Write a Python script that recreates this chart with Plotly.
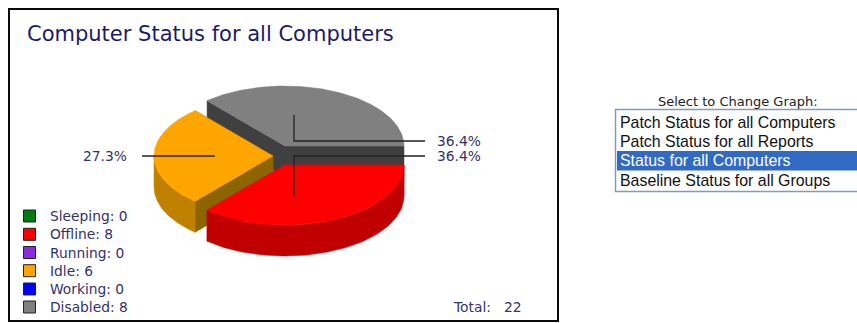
import numpy as np
import plotly.graph_objects as go

# Chart data
categories = ["Sleeping", "Offline", "Running", "Idle", "Working", "Disabled"]
counts = [0, 8, 0, 6, 0, 8]
swatch_colors = ["#007a12", "#ff0000", "#8a2be2", "#ffa500", "#0000ff", "#808080"]
graph_choices = [
    "Patch Status for all Computers",
    "Patch Status for all Reports",
    "Status for all Computers",
    "Baseline Status for all Groups",
]
selected_choice = 2
chart_title = "Computer Status for all Computers"
selector_title = "Select to Change Graph:"

# Pie geometry, in page pixels
RX, RY, DEPTH = 119, 60, 31
CENTERS = {"Offline": (285, 165), "Idle": (273, 156), "Disabled": (285, 146)}
WALLS = {
    "Offline": {"side": "#c00000", "cut": "#c00000"},
    "Idle": {"side": "#c08000", "cut": "#8c6400"},
    "Disabled": {"side": "#404040", "cut": "#404040"},
}
# Leader lines: elbow point, then label-side end, then label anchor
LEADERS = {
    "Disabled": {"start": (294, 115), "elbow": (294, 141), "end": (425, 141), "text": (437, 141, "left")},
    "Offline": {"start": (294, 197), "elbow": (294, 156), "end": (425, 156), "text": (437, 156, "left")},
    "Idle": {"start": (215, 156), "elbow": (215, 156), "end": (142, 156), "text": (127, 156, "right")},
}
INK = "#33336b"
TEXT_FONT = "DejaVu Sans"

total = sum(counts)
spans = {}
angle = 0.0
for name, count in zip(categories, counts):
    sweep = 360.0 * count / total
    spans[name] = (angle, angle + sweep)
    angle += sweep

fig = go.Figure()


def polygon(xs, ys, color):
    fig.add_trace(go.Scatter(
        x=list(xs) + [xs[0]], y=list(ys) + [ys[0]], mode="lines", fill="toself",
        fillcolor=color, line=dict(width=0.5, color=color), hoverinfo="skip", showlegend=False,
    ))


def ellipse_point(center, deg):
    rad = np.radians(deg)
    return center[0] + RX * np.cos(rad), center[1] + RY * np.sin(rad)


def draw_slice(name, front_from, front_to):
    center = CENTERS[name]
    a0, a1 = spans[name]
    color = swatch_colors[categories.index(name)]
    # cut faces, extruded downward from the two radial edges
    for edge in (a0, a1):
        ex, ey = ellipse_point(center, edge)
        polygon([center[0], ex, ex, center[0]],
                [center[1], ey, ey + DEPTH, center[1] + DEPTH], WALLS[name]["cut"])
    # outer rim on the part of the arc facing the viewer
    if front_to > front_from:
        rim = np.linspace(front_from, front_to, 90)
        rx, ry = ellipse_point(center, rim)
        polygon(list(rx) + list(rx[::-1]), list(ry) + list(ry[::-1] + DEPTH), WALLS[name]["side"])
    # top face
    arc = np.linspace(a0, a1, 160)
    ax, ay = ellipse_point(center, arc)
    polygon([center[0]] + list(ax), [center[1]] + list(ay), color)


# Painted back to front
a0, a1 = spans["Disabled"]
draw_slice("Disabled", 0, 0)
a0, a1 = spans["Idle"]
draw_slice("Idle", a0, 180)
a0, a1 = spans["Offline"]
draw_slice("Offline", a0, a1)

annotations = []


def label(x, y, text, size=13.8, color=INK, anchor="left", family=TEXT_FONT):
    annotations.append(dict(
        x=x, y=y, xref="x", yref="y", text=text, showarrow=False, xanchor=anchor, yanchor="middle",
        font=dict(family=family, size=size, color=color), borderpad=0, borderwidth=0,
    ))


# Leader lines and percentage labels
for name, leader in LEADERS.items():
    pts = [leader["start"], leader["elbow"], leader["end"]]
    fig.add_trace(go.Scatter(
        x=[p[0] for p in pts], y=[p[1] for p in pts], mode="lines",
        line=dict(color="#222222", width=1.3), hoverinfo="skip", showlegend=False,
    ))
    share = 100.0 * counts[categories.index(name)] / total
    tx, ty, anchor = leader["text"]
    label(tx, ty, f"{share:.1f}%", anchor=anchor)

# Legend column
legend_y = [216, 234.3, 252.5, 270.7, 289, 307]
fig.add_trace(go.Scatter(
    x=[29.5] * len(categories), y=legend_y, mode="markers",
    marker=dict(symbol="square", size=12, color=swatch_colors, line=dict(color="#222222", width=1)),
    hoverinfo="skip", showlegend=False,
))
for name, count, y in zip(categories, counts, legend_y):
    label(50, y, f"{name}: {count}")
label(453, 307, "Total:", size=13.8)
label(522, 307, f"{total}", size=13.8, anchor="right")

label(27, 34, chart_title, size=21, color="#1c1c66")

# Selector box on the right
label(737.5, 101, selector_title, size=13, color="#222222", anchor="center")
shapes = [
    dict(type="rect", x0=9, y0=9, x1=558, y1=321, line=dict(color="#0a0a0a", width=2), fillcolor="white", layer="below"),
    dict(type="rect", x0=615.5, y0=109.5, x1=870, y1=191.5, line=dict(color="#7f9db9", width=1.5), fillcolor="white", layer="below"),
    dict(type="rect", x0=617, y0=151, x1=870, y1=170.5, line=dict(width=0), fillcolor="#316ac5", layer="below"),
]
for i, choice in enumerate(graph_choices):
    color = "white" if i == selected_choice else "#111111"
    label(620, 122 + i * 19.4, choice, size=15.9, color=color, family="Liberation Sans")

fig.update_layout(
    width=857, height=323, margin=dict(l=0, r=0, t=0, b=0),
    paper_bgcolor="white", plot_bgcolor="white",
    xaxis=dict(range=[0, 857], visible=False, fixedrange=True),
    yaxis=dict(range=[323, 0], visible=False, fixedrange=True),
    shapes=shapes, annotations=annotations, showlegend=False,
)
fig.write_html("out.html", config={"displayModeBar": False})
